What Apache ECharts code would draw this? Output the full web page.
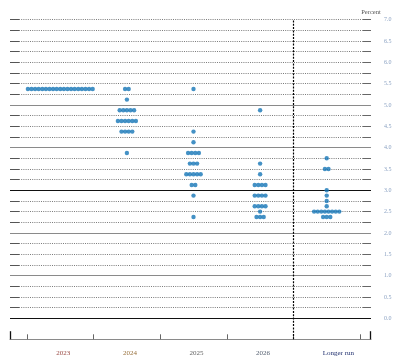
<!DOCTYPE html>
<html><head><meta charset="utf-8">
<script src="https://cdn.jsdelivr.net/npm/echarts@6/dist/echarts.min.js"></script>
<style>html,body{margin:0;padding:0;background:#fff}#c{width:401px;height:363px}</style>
</head><body><div id="c"></div>
<script>
// ---- data ----
const categories = ['2023', '2024', '2025', '2026', 'Longer run'];
const categoryColors = ['#9a4a44', '#98703c', '#5f5f5f', '#556070', '#1f2f6e'];
// each row: [midpoint of target range (percent), number of participants]
const dots2023 = [[5.375, 19]];
const dots2024 = [[5.375, 2], [5.125, 1], [4.875, 5], [4.625, 6], [4.375, 4], [3.875, 1]];
const dots2025 = [[5.375, 1], [4.375, 1], [4.125, 1], [3.875, 4], [3.625, 3], [3.375, 5], [3.125, 2], [2.875, 1], [2.375, 1]];
const dots2026 = [[4.875, 1], [3.625, 1], [3.375, 1], [3.125, 4], [2.875, 4], [2.625, 4], [2.5, 1], [2.375, 3]];
const dotsLongerRun = [[3.75, 1], [3.5, 2], [3.0, 1], [2.875, 1], [2.75, 1], [2.625, 1], [2.5, 8], [2.375, 3]];
const yTickValues = [0, 0.5, 1, 1.5, 2, 2.5, 3, 3.5, 4, 4.5, 5, 5.5, 6, 6.5, 7];
const yAxisName = 'Percent';

// ---- layout constants ----
const X_MIN = -0.755, X_MAX = 4.665;   // category units across the frame
const Y_MIN = -0.492, Y_MAX = 7;
const DOT_STEP = 0.054;                 // horizontal spacing of stacked dots
const SEG_L = -0.62, SEG_R = 4.545;     // ends of the short solid tick segments
const LABEL_SHIFT = 0.06;

const groups = [dots2023, dots2024, dots2025, dots2026, dotsLongerRun];
const dotData = [];
groups.forEach((rows, ci) => {
  rows.forEach(([v, n]) => {
    for (let k = 0; k < n; k++) {
      dotData.push([ci + (k - (n - 1) / 2) * DOT_STEP, v]);
    }
  });
});

const lines = [];
for (let i = 0; i <= 28; i++) {
  const y = i * 0.25;
  if (Number.isInteger(y) && y <= 5) {
    const dark = (y === 0 || y === 3);
    lines.push([{coord: [X_MIN, y], lineStyle: {color: dark ? '#111' : '#8a8a8a', width: dark ? 1.2 : 1, type: 'solid'}}, {coord: [X_MAX, y]}]);
  } else {
    lines.push([{coord: [X_MIN, y], lineStyle: {color: '#555', width: 1, type: 'solid'}}, {coord: [SEG_L, y]}]);
    lines.push([{coord: [SEG_L, y], lineStyle: {color: '#7a7a7a', width: 1, type: [1, 1.2]}}, {coord: [SEG_R, y]}]);
    lines.push([{coord: [SEG_R, y], lineStyle: {color: '#666', width: 1, type: 'solid'}}, {coord: [X_MAX, y]}]);
  }
}
// vertical dashed separator before "Longer run"
lines.push([{coord: [3.5, Y_MIN], lineStyle: {color: '#000', width: 1.2, type: [2, 1.3]}}, {coord: [3.5, Y_MAX]}]);
// end brackets on the bottom axis
lines.push([{coord: [X_MIN + 0.005, Y_MIN], lineStyle: {color: '#111', width: 1.3, type: 'solid'}}, {coord: [X_MIN + 0.005, Y_MIN + 0.19]}]);
lines.push([{coord: [X_MAX - 0.005, Y_MIN], lineStyle: {color: '#111', width: 1.3, type: 'solid'}}, {coord: [X_MAX - 0.005, Y_MIN + 0.19]}]);

const rich = {};
categoryColors.forEach((c, i) => { rich['c' + i] = {color: c, fontFamily: 'Liberation Serif', fontSize: 7}; });

const chart = echarts.init(document.getElementById('c'), null, {renderer: 'canvas'});
chart.setOption({
  animation: false,
  backgroundColor: '#fff',
  grid: {left: 10, right: 30, top: 19.6, bottom: 23.7, containLabel: false},
  xAxis: {
    type: 'value', min: X_MIN, max: X_MAX,
    splitLine: {show: false},
    axisLine: {show: true, onZero: false, lineStyle: {color: '#8a8a8a', width: 1}},
    axisTick: {show: true, inside: true, length: 5, lineStyle: {color: '#666', width: 1},
      customValues: [-0.5, 0.5, 1.5, 2.5, 3.5, 4.5]},
    axisLabel: {
      show: true, margin: 10, align: 'left',
      customValues: categories.map((c, i) => i - LABEL_SHIFT),
      formatter: v => {
        const i = Math.round(Number(v) + LABEL_SHIFT);
        return '{c' + i + '|' + categories[i] + '}';
      },
      rich: rich,
      fontFamily: 'Liberation Serif', fontSize: 7
    }
  },
  yAxis: {
    type: 'value', position: 'right', min: Y_MIN, max: Y_MAX,
    name: yAxisName, nameLocation: 'end', nameGap: 4,
    nameTextStyle: {fontFamily: 'Liberation Serif', fontSize: 6.5, color: '#555', align: 'center'},
    splitLine: {show: false},
    axisLine: {show: false, onZero: false},
    axisTick: {show: false},
    axisLabel: {
      show: true, margin: 13, customValues: yTickValues,
      formatter: v => Number(v).toFixed(1),
      fontFamily: 'Liberation Serif', fontSize: 6, color: '#8aa1c2'
    }
  },
  series: [{
    type: 'scatter',
    data: dotData,
    symbol: 'circle',
    symbolSize: 4.4,
    itemStyle: {color: '#1576b6'},
    z: 5,
    markLine: {
      silent: true, symbol: ['none', 'none'], label: {show: false},
      animation: false, data: lines, z: 1
    }
  }]
});
</script>
</body></html>
